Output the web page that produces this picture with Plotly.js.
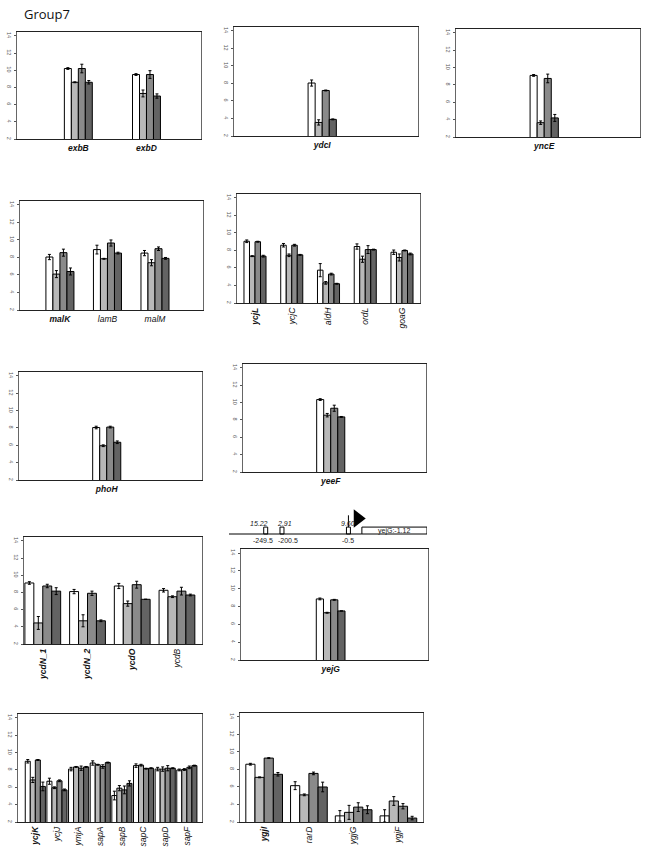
<!DOCTYPE html>
<html>
<head>
<meta charset="utf-8">
<script src="https://cdn.plot.ly/plotly-3.0.1.min.js"></script>
<style>
  body { margin: 0; background: #fff; }
  #fig { width: 648px; height: 856px; }
</style>
</head>
<body>
<div id="fig"></div>
<script>
const W = 648, H = 856;

// four strains per gene: white, light grey, mid grey, dark grey
const fills = ['#ffffff', '#b8b8b8', '#8a8a8a', '#636363'];
const boldGenes = ['exbB', 'exbD', 'ydcI', 'yncE', 'malK', 'phoH', 'yeeF', 'yejG',
  'ycjL', 'ycdN_1', 'ycdN_2', 'ycdO', 'ycjK', 'ygjI'];

// each inner array is one series (one strain) over the categories
const exbCats = ['exbB', 'exbD'];
const exbVals = [[10.2, 9.5], [8.6, 7.3], [10.2, 9.5], [8.6, 7.0]];
const exbErr = [[0.1, 0.1], [0.05, 0.4], [0.5, 0.45], [0.2, 0.25]];

const ydcCats = ['ydcI'];
const ydcVals = [[8.05], [3.55], [7.2], [3.9]];
const ydcErr = [[0.35], [0.3], [0.05], [0.05]];

const yncCats = ['yncE'];
const yncVals = [[9.1], [3.65], [8.75], [4.2]];
const yncErr = [[0.1], [0.2], [0.5], [0.4]];

const malCats = ['malK', 'lamB', 'malM'];
const malVals = [[8.05, 8.9, 8.5], [6.1, 7.85, 7.4], [8.55, 9.65, 9.0], [6.4, 8.5, 7.9]];
const malErr = [[0.3, 0.5, 0.3], [0.4, 0.05, 0.35], [0.4, 0.35, 0.2], [0.4, 0.1, 0.1]];

const ycjLCats = ['ycjL', 'ycjC', 'aldH', 'ordL', 'goaG'];
const ycjLVals = [[9.05, 8.6, 5.75, 8.45, 7.8], [7.35, 7.45, 4.3, 7.0, 7.2],
  [9.0, 8.6, 5.3, 8.1, 8.0], [7.35, 7.5, 4.2, 8.1, 7.6]];
const ycjLErr = [[0.15, 0.2, 0.75, 0.3, 0.25], [0.05, 0.15, 0.15, 0.35, 0.4],
  [0.05, 0.1, 0.1, 0.45, 0.05], [0.1, 0.05, 0.05, 0.05, 0.1]];

const phoCats = ['phoH'];
const phoVals = [[8.05], [5.95], [8.1], [6.35]];
const phoErr = [[0.15], [0.1], [0.1], [0.15]];

const yeeCats = ['yeeF'];
const yeeVals = [[10.35], [8.55], [9.35], [8.35]];
const yeeErr = [[0.1], [0.2], [0.35], [0.05]];

const ycdCats = ['ycdN_1', 'ycdN_2', 'ycdO', 'ycdB'];
const ycdVals = [[9.1, 8.1, 8.75, 8.25], [4.45, 4.7, 6.7, 7.5],
  [8.75, 7.9, 8.9, 8.15], [8.15, 4.7, 7.2, 7.7]];
const ycdErr = [[0.15, 0.25, 0.3, 0.2], [0.75, 0.7, 0.3, 0.1],
  [0.2, 0.25, 0.4, 0.45], [0.4, 0.1, 0.0, 0.1]];

const yejCats = ['yejG'];
const yejVals = [[8.85], [7.3], [8.75], [7.5]];
const yejErr = [[0.1], [0.05], [0.05], [0.0]];

// promoter diagram above yejG
const sitePos = [-249.5, -200.5, -0.5];
const siteScores = ['15.22', '2.91', '9.60'];
const promoterSpan = [-360, 40];
const geneSpan = [40, 236];
const geneLabel = 'yejG:-1.12';

const ycjKCats = ['ycjK', 'ycjJ', 'ymjA', 'sapA', 'sapB', 'sapC', 'sapD', 'sapF'];
const ycjKVals = [[9.0, 6.7, 8.1, 8.8, 5.05, 8.5, 8.1, 8.0],
  [6.85, 5.95, 8.35, 8.6, 5.9, 8.55, 8.1, 8.05],
  [9.15, 6.75, 8.2, 8.4, 5.7, 8.15, 8.2, 8.3],
  [6.1, 5.7, 8.35, 8.85, 6.45, 8.2, 8.2, 8.5]];
const ycjKErr = [[0.2, 0.35, 0.2, 0.25, 0.5, 0.2, 0.2, 0.1],
  [0.3, 0.1, 0.05, 0.05, 0.3, 0.1, 0.25, 0.1],
  [0.05, 0.1, 0.25, 0.2, 0.45, 0.05, 0.3, 0.15],
  [0.5, 0.1, 0.05, 0.05, 0.3, 0.05, 0.05, 0.05]];

const ygjCats = ['ygjI', 'rarD', 'ygjG', 'ygjF'];
const ygjVals = [[8.6, 6.15, 2.7, 2.7], [7.1, 5.1, 3.1, 4.4],
  [9.3, 7.55, 3.7, 3.8], [7.45, 6.0, 3.4, 2.45]];
const ygjErr = [[0.1, 0.45, 0.6, 0.7], [0.05, 0.1, 0.8, 0.5],
  [0.05, 0.15, 0.5, 0.3], [0.2, 0.55, 0.45, 0.2]];

const data = [];
const layout = {
  width: W, height: H,
  margin: { l: 0, r: 0, t: 0, b: 0 },
  paper_bgcolor: '#fff', plot_bgcolor: '#fff',
  showlegend: false,
  barmode: 'overlay',
  font: { family: 'Liberation Sans, Arial, sans-serif' },
  shapes: [],
  annotations: []
};

function tickLabel(g) {
  return boldGenes.includes(g) ? '<b><i>' + g + '</i></b>' : '<i>' + g + '</i>';
}

// box = [left, right, top, bottom] in pixels
function addPanel(n, box, cats, vals, errs, xr, gw, angle) {
  const xa = 'x' + n, ya = 'y' + n;
  const bw = gw / vals.length;
  vals.forEach((v, s) => {
    data.push({
      type: 'bar', xaxis: xa, yaxis: ya,
      x: cats.map((c, i) => i), y: v,
      width: bw, offset: -gw / 2 + s * bw,
      marker: { color: fills[s], line: { color: '#000', width: 1 } },
      error_y: { type: 'data', array: errs[s], color: '#000', thickness: 1, width: 1.5 },
      hoverinfo: 'skip'
    });
  });
  layout['xaxis' + n] = {
    domain: [box[0] / W, box[1] / W], range: xr, anchor: ya,
    tickmode: 'array', tickvals: cats.map((c, i) => i), ticktext: cats.map(tickLabel),
    tickangle: angle, ticks: '',
    tickfont: { family: 'Liberation Sans, Arial, sans-serif', size: 8.5, color: '#111' },
    showline: true, linecolor: '#222', linewidth: 1.3, mirror: true,
    showgrid: false, zeroline: false, fixedrange: true
  };
  layout['yaxis' + n] = {
    domain: [1 - box[3] / H, 1 - box[2] / H], range: [2, 14.45], anchor: xa,
    tickmode: 'array', tickvals: [2, 4, 6, 8, 10, 12, 14], tickangle: 90,
    tickfont: { size: 5.5, color: '#555' }, ticks: 'outside', ticklen: 2, tickcolor: '#555',
    showline: true, linecolor: '#666', linewidth: 1.3, mirror: true,
    showgrid: false, zeroline: false, fixedrange: true
  };
}

const single = [-1.28, 1.39];
addPanel(1, [17, 201, 32, 139], exbCats, exbVals, exbErr, [-0.9, 1.8], 0.41, 0);
addPanel(2, [234, 418, 27, 136], ydcCats, ydcVals, ydcErr, single, 0.41, 0);
addPanel(3, [456, 640, 29, 137], yncCats, yncVals, yncErr, single, 0.41, 0);
addPanel(4, [20, 203, 201, 310], malCats, malVals, malErr, [-0.84, 3.01], 0.59, 0);
addPanel(5, [237, 420, 194, 303], ycjLCats, ycjLVals, ycjLErr, [-0.49, 4.49], 0.6, -90);
addPanel(6, [19, 202, 372, 480], phoCats, phoVals, phoErr, single, 0.41, 0);
addPanel(7, [243, 426, 364, 472], yeeCats, yeeVals, yeeErr, single, 0.41, 0);
addPanel(8, [24, 202, 537, 644], ycdCats, ycdVals, ycdErr, [-0.42, 3.56], 0.8, -90);
addPanel(9, [241, 428, 549, 660], yejCats, yejVals, yejErr, single, 0.41, 0);
addPanel(10, [18, 202, 714, 822], ycjKCats, ycjKVals, ycjKErr, [-0.8, 7.7], 0.93, -90);
addPanel(11, [240, 423, 713, 822], ygjCats, ygjVals, ygjErr, [-0.54, 3.55], 0.82, -90);

// promoter diagram: hidden axis pair 12, pixels 229..427 across, 512..545 down
layout.xaxis12 = { domain: [229 / W, 427 / W], range: [promoterSpan[0], geneSpan[1]], anchor: 'y12', visible: false, fixedrange: true };
layout.yaxis12 = { domain: [1 - 545 / H, 1 - 512 / H], range: [0, 1], anchor: 'x12', visible: false, fixedrange: true };
const baseY = 0.333, boxH = 0.21;
layout.shapes.push({
  type: 'line', xref: 'x12', yref: 'y12', x0: promoterSpan[0], x1: promoterSpan[1], y0: baseY, y1: baseY,
  line: { color: '#000', width: 1 }
});
layout.shapes.push({
  type: 'rect', xref: 'x12', yref: 'y12', x0: geneSpan[0], x1: geneSpan[1], y0: baseY, y1: baseY + boxH,
  line: { color: '#000', width: 1 }, fillcolor: '#fff'
});
layout.shapes.push({
  type: 'line', xref: 'x12', yref: 'y12', x0: sitePos[2], x1: sitePos[2], y0: baseY + boxH, y1: 0.9,
  line: { color: '#000', width: 1 }
});
layout.annotations.push({
  xref: 'x12', yref: 'y12', x: (geneSpan[0] + geneSpan[1]) / 2, y: baseY + boxH / 2,
  text: geneLabel, showarrow: false, font: { size: 7, color: '#222' }
});
data.push({
  type: 'bar', xaxis: 'x12', yaxis: 'y12', x: sitePos, y: sitePos.map(() => boxH),
  base: baseY, width: 12, marker: { color: '#fff', line: { color: '#000', width: 1 } }, hoverinfo: 'skip'
});
// site labels, nudged apart like the original
const scoreShift = [-7, 3, 0];
const posShift = [-3, 6, 0];
sitePos.forEach((p, i) => {
  layout.annotations.push({
    xref: 'x12', yref: 'y12', x: p, y: 0.66, xshift: scoreShift[i], showarrow: false,
    text: '<i>' + siteScores[i] + '</i>', font: { size: 7, color: '#222' }
  });
  layout.annotations.push({
    xref: 'x12', yref: 'y12', x: p, y: 0.15, xshift: posShift[i], showarrow: false,
    text: String(p), font: { size: 7, color: '#222' }
  });
});
data.push({
  type: 'scatter', mode: 'markers', xaxis: 'x12', yaxis: 'y12', x: [sitePos[2] + 28], y: [0.8],
  marker: { symbol: 'triangle-right', size: 16, color: '#000' }, hoverinfo: 'skip', cliponaxis: false
});

layout.annotations.push({
  xref: 'paper', yref: 'paper', x: 22 / W, y: 1 - 3 / H, xanchor: 'left', yanchor: 'top',
  text: 'Group7', showarrow: false, font: { family: 'Open Sans, sans-serif', size: 13, color: '#111' }
});

Plotly.newPlot('fig', data, layout, { staticPlot: true, displayModeBar: false });
</script>
</body>
</html>
